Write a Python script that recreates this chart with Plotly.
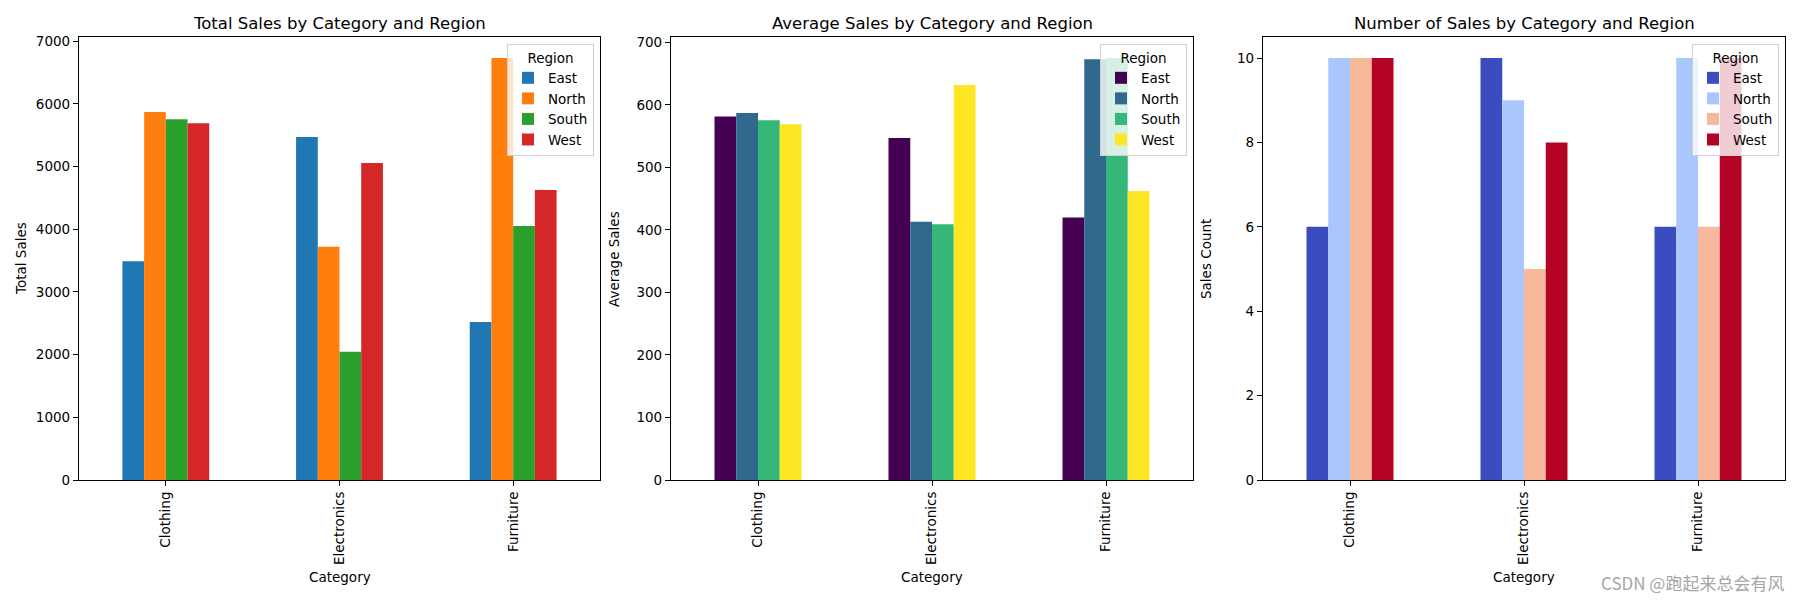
import plotly.graph_objects as go
from plotly.subplots import make_subplots

categories = ["Clothing", "Electronics", "Furniture"]
regions = ["East", "North", "South", "West"]

# total sales per region, one value per category
total_sales = {
    "East": [3490, 5470, 2520],
    "North": [5870, 3720, 6730],
    "South": [5755, 2045, 4050],
    "West": [5690, 5055, 4625],
}
# average sales per region
avg_sales = {
    "East": [581.7, 547.0, 420.0],
    "North": [587.0, 413.3, 673.0],
    "South": [575.5, 409.0, 675.0],
    "West": [569.0, 631.9, 462.5],
}
# number of sales per region
count_sales = {
    "East": [6, 10, 6],
    "North": [10, 9, 10],
    "South": [10, 5, 6],
    "West": [10, 8, 10],
}

tab10 = ["#1f77b4", "#ff7f0e", "#2ca02c", "#d62728"]
viridis = ["#440154", "#31688e", "#35b779", "#fde725"]
coolwarm = ["#3b4cc0", "#aac7fd", "#f7b89c", "#b40426"]

W, H = 1800, 600
OFF = 8  # page body margin pushes the plot down/right by this much
FONT = "DejaVu Sans"


def px_x(v):
    return (v - OFF) / W


def px_y(v):
    return 1 - (v - OFF) / H


panels = [
    ("Total Sales by Category and Region", "Total Sales", total_sales, tab10, 7066, 1000, (79, 600)),
    ("Average Sales by Category and Region", "Average Sales", avg_sales, viridis, 708.75, 100, (671, 1193)),
    ("Number of Sales by Category and Region", "Sales Count", count_sales, coolwarm, 10.5, 2, (1263, 1785)),
]
ytitle_x = [21, 614, 1206]

top_px, bot_px = 37, 480

fig = make_subplots(rows=1, cols=3)

annotations = []
for i, (title, ylabel, data, colors, ymax, dtick, (x0, x1)) in enumerate(panels):
    col = i + 1
    leg = "legend" if i == 0 else f"legend{i + 1}"
    for reg, c in zip(regions, colors):
        fig.add_trace(go.Bar(
            x=categories, y=data[reg], name=reg,
            marker=dict(color=c, line=dict(width=0)),
            legend=leg,
        ), row=1, col=col)

    xa = "xaxis" if i == 0 else f"xaxis{i + 1}"
    ya = "yaxis" if i == 0 else f"yaxis{i + 1}"
    fig.layout[xa].update(
        domain=[px_x(x0), px_x(x1)], range=[-0.5, 2.5], tickangle=-90,
        showline=True, linecolor="black", linewidth=1.2, mirror=True,
        ticks="outside", ticklen=5, tickwidth=1.1, tickcolor="black",
        showgrid=False, zeroline=False,
        tickfont=dict(family=FONT, size=13.5, color="black"),
        automargin=False,
    )
    fig.layout[ya].update(
        domain=[px_y(bot_px), px_y(top_px)], range=[0, ymax], dtick=dtick,
        showline=True, linecolor="black", linewidth=1.2, mirror=True,
        ticks="outside", ticklen=5, tickwidth=1.1, tickcolor="black",
        showgrid=False, zeroline=False,
        tickfont=dict(family=FONT, size=13.5, color="black"),
        automargin=False,
    )

    fig.layout[leg] = dict(
        title=dict(text="Region", side="top center", font=dict(family=FONT, size=13.5, color="black")),
        x=px_x(x1 - 6), xanchor="right", y=px_y(44), yanchor="top",
        bgcolor="rgba(255,255,255,0.8)", bordercolor="#d0d0d0", borderwidth=1,
        font=dict(family=FONT, size=13.5, color="black"),
        itemwidth=30, tracegroupgap=0,
    )

    cx = px_x((x0 + x1) / 2)
    annotations.append(dict(
        text=title, x=cx, y=px_y(23), xref="paper", yref="paper",
        showarrow=False, font=dict(family=FONT, size=16.5, color="black"),
        xanchor="center", yanchor="middle",
    ))
    annotations.append(dict(
        text="Category", x=cx, y=px_y(577), xref="paper", yref="paper",
        showarrow=False, font=dict(family=FONT, size=13.5, color="black"),
        xanchor="center", yanchor="middle",
    ))
    annotations.append(dict(
        text=ylabel, x=px_x(ytitle_x[i]), y=px_y(259), xref="paper", yref="paper",
        showarrow=False, textangle=-90, font=dict(family=FONT, size=13.5, color="black"),
        xanchor="center", yanchor="middle",
    ))

annotations.append(dict(
    text="CSDN @跑起来总会有风", x=px_x(1786), y=px_y(582), xref="paper", yref="paper",
    showarrow=False, font=dict(family="Noto Sans CJK SC", size=17, color="#a6a6a6"),
    xanchor="right", yanchor="middle",
))

fig.update_layout(
    width=W, height=H,
    margin=dict(l=0, r=0, t=0, b=0),
    plot_bgcolor="white", paper_bgcolor="white",
    barmode="group", bargap=0.5, bargroupgap=0,
    annotations=annotations,
    showlegend=True,
)

fig.write_html("out.html")
